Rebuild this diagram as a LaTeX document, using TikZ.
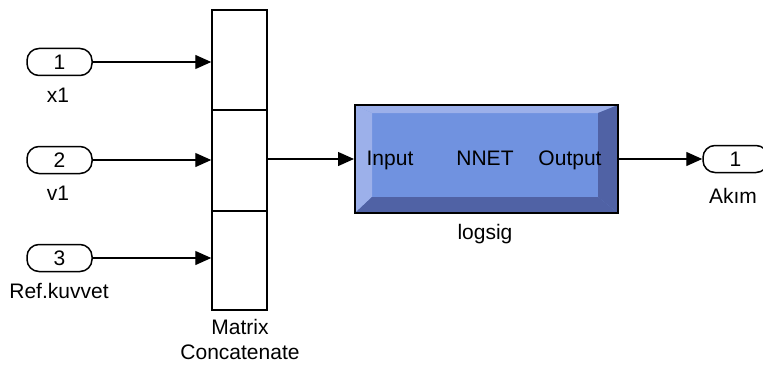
\documentclass[tikz,border=0pt]{standalone}
\usepackage{fontspec}
\setmainfont{Liberation Sans}
\usetikzlibrary{arrows.meta}
\definecolor{nmain}{RGB}{112,146,224}
\definecolor{nlight}{RGB}{156,176,234}
\definecolor{ndark}{RGB}{80,98,165}
\begin{document}
\begin{tikzpicture}[x=1pt,y=-1pt,
  txt/.style={font=\fontsize{21}{24}\selectfont, inner sep=0pt, text height=15pt, text depth=4pt},
  port/.style={draw, line width=1.5pt, rounded corners=12pt, minimum width=65pt, minimum height=27pt, inner sep=0pt, font=\fontsize{21}{24}\selectfont},
  conn/.style={line width=1.3pt, -{Triangle[length=16pt,width=14pt]}},
  plain/.style={line width=1.3pt}]
\useasboundingbox (0,0) rectangle (763,369);
\clip (0,0) rectangle (763,369);
% input ports
\node[port] (p1) at (59.5,62) {1};
\node[port] (p2) at (59.5,160) {2};
\node[port] (p3) at (59.5,258) {3};
\node[txt] (l1) at (58,97) {x1};
\node[txt] (l2) at (58,195) {v1};
\node[txt] (l3) at (59,293) {Ref.kuvvet};
% concatenate block
\node[draw, line width=1.5pt, minimum width=55pt, minimum height=300pt, inner sep=0pt] (cat) at (239.5,160) {};
\draw[line width=1.5pt] (212,110) -- (267,110);
\draw[line width=1.5pt] (212,211) -- (267,211);
\node[txt] (lm) at (240,329) {Matrix};
\node[txt] (lc) at (240,354) {Concatenate};
\coordinate (c1) at (cat.west |- p1);
\coordinate (c2) at (cat.west |- p2);
\coordinate (c3) at (cat.west |- p3);
\draw[conn] (p1.east) -- (c1);
\draw[conn] (p2.east) -- (c2);
\draw[conn] (p3.east) -- (c3);
% NNET block
\fill[nmain] (355,105) rectangle (618,213);
\fill[nlight] (355,105) -- (618,105) -- (598,113) -- (372,113) -- cycle;
\fill[nlight] (355,105) -- (372,113) -- (372,197) -- (355,213) -- cycle;
\fill[ndark] (355,213) -- (372,197) -- (598,197) -- (618,213) -- cycle;
\fill[ndark] (618,105) -- (598,113) -- (598,197) -- (618,213) -- cycle;
\node[draw, line width=2pt, minimum width=263pt, minimum height=108pt, inner sep=0pt] (nn) at (486.5,159) {};
\node[txt] (tin) at (390,160) {Input};
\node[txt] (tnn) at (485,160) {NNET};
\node[txt] (tout) at (570,160) {Output};
\node[txt] (tls) at (485,234) {logsig};
\coordinate (cout) at (cat.east |- nn.west);
\draw[conn] (cout) -- (nn.west);
% output port
\node[port] (po) at (735.5,159) {1};
\node[txt] (lo) at (733,198) {Akım};
\draw[conn] (nn.east) -- (po.west);
\end{tikzpicture}
\end{document}
